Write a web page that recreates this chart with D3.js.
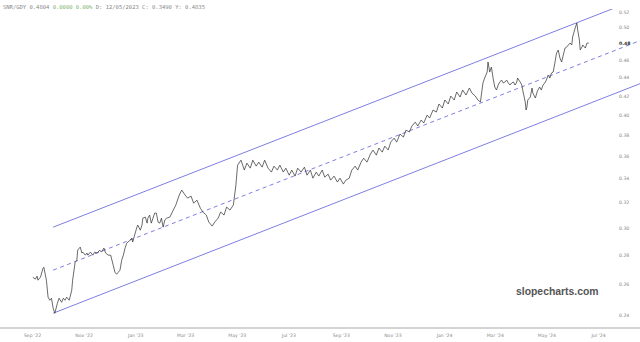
<!DOCTYPE html>
<html><head><meta charset="utf-8">
<script src="https://cdn.jsdelivr.net/npm/d3@7"></script>
<style>html,body{margin:0;padding:0;background:#fff;}svg{display:block;}</style>
</head><body>
<script>
const dates = ["2022-09-02","2022-09-05","2022-09-07","2022-09-08","2022-09-11","2022-09-14","2022-09-15","2022-09-18","2022-09-20","2022-09-22","2022-09-24","2022-09-26","2022-09-28","2022-10-01","2022-10-03","2022-10-06","2022-10-08","2022-10-10","2022-10-12","2022-10-15","2022-10-18","2022-10-19","2022-10-22","2022-10-24","2022-10-25","2022-10-28","2022-10-30","2022-10-31","2022-11-03","2022-11-05","2022-11-06","2022-11-09","2022-11-12","2022-11-14","2022-11-17","2022-11-20","2022-11-22","2022-11-25","2022-11-27","2022-11-30","2022-12-03","2022-12-06","2022-12-08","2022-12-10","2022-12-12","2022-12-14","2022-12-16","2022-12-18","2022-12-20","2022-12-22","2022-12-26","2022-12-28","2022-12-29","2023-01-01","2023-01-03","2023-01-04","2023-01-07","2023-01-09","2023-01-10","2023-01-13","2023-01-15","2023-01-16","2023-01-18","2023-01-20","2023-01-22","2023-01-24","2023-01-26","2023-01-28","2023-01-30","2023-02-01","2023-02-03","2023-02-05","2023-02-07","2023-02-11","2023-02-15","2023-02-18","2023-02-22","2023-02-25","2023-03-01","2023-03-04","2023-03-08","2023-03-11","2023-03-15","2023-03-19","2023-03-22","2023-03-26","2023-03-29","2023-04-02","2023-04-05","2023-04-09","2023-04-12","2023-04-16","2023-04-19","2023-04-23","2023-04-27","2023-04-30","2023-05-02","2023-05-06","2023-05-10","2023-05-13","2023-05-17","2023-05-20","2023-05-24","2023-05-27","2023-05-31","2023-06-03","2023-06-07","2023-06-11","2023-06-14","2023-06-18","2023-06-21","2023-06-25","2023-06-28","2023-07-02","2023-07-05","2023-07-09","2023-07-12","2023-07-16","2023-07-20","2023-07-23","2023-07-27","2023-07-30","2023-08-03","2023-08-06","2023-08-10","2023-08-13","2023-08-17","2023-08-20","2023-08-24","2023-08-28","2023-08-31","2023-09-04","2023-09-07","2023-09-11","2023-09-14","2023-09-18","2023-09-21","2023-09-25","2023-09-28","2023-10-02","2023-10-06","2023-10-09","2023-10-13","2023-10-16","2023-10-20","2023-10-23","2023-10-27","2023-10-30","2023-11-03","2023-11-06","2023-11-10","2023-11-14","2023-11-17","2023-11-21","2023-11-24","2023-11-28","2023-12-01","2023-12-05","2023-12-08","2023-12-12","2023-12-15","2023-12-19","2023-12-23","2023-12-26","2023-12-30","2024-01-02","2024-01-06","2024-01-09","2024-01-13","2024-01-16","2024-01-20","2024-01-23","2024-01-27","2024-01-31","2024-02-03","2024-02-07","2024-02-10","2024-02-13","2024-02-16","2024-02-18","2024-02-21","2024-02-22","2024-02-24","2024-02-26","2024-02-28","2024-03-01","2024-03-03","2024-03-05","2024-03-07","2024-03-09","2024-03-11","2024-03-13","2024-03-15","2024-03-17","2024-03-19","2024-03-21","2024-03-23","2024-03-25","2024-03-27","2024-03-28","2024-03-31","2024-04-02","2024-04-03","2024-04-06","2024-04-07","2024-04-08","2024-04-09","2024-04-12","2024-04-14","2024-04-15","2024-04-18","2024-04-20","2024-04-21","2024-04-23","2024-04-25","2024-04-27","2024-04-29","2024-05-01","2024-05-03","2024-05-05","2024-05-07","2024-05-09","2024-05-11","2024-05-13","2024-05-15","2024-05-17","2024-05-19","2024-05-21","2024-05-23","2024-05-25","2024-05-27","2024-05-29","2024-05-31","2024-06-01","2024-06-04","2024-06-06","2024-06-07","2024-06-09","2024-06-10","2024-06-12","2024-06-13","2024-06-16","2024-06-18","2024-06-20"];
const prices = [0.2643,0.2630,0.2650,0.2623,0.2643,0.2704,0.2711,0.2623,0.2512,0.2492,0.2505,0.2442,0.2411,0.2473,0.2505,0.2479,0.2505,0.2492,0.2512,0.2492,0.2557,0.2623,0.2746,0.2760,0.2832,0.2854,0.2811,0.2818,0.2796,0.2811,0.2796,0.2818,0.2796,0.2818,0.2811,0.2832,0.2818,0.2847,0.2811,0.2796,0.2796,0.2725,0.2677,0.2663,0.2677,0.2691,0.2760,0.2796,0.2847,0.2883,0.2905,0.2920,0.2891,0.2958,0.3003,0.3019,0.2980,0.3019,0.3073,0.3081,0.3034,0.3073,0.3097,0.3034,0.3073,0.3113,0.3113,0.3042,0.3034,0.3073,0.3003,0.3058,0.3073,0.3081,0.3137,0.3177,0.3259,0.3301,0.3259,0.3234,0.3251,0.3193,0.3217,0.3152,0.3121,0.3097,0.3042,0.3011,0.3042,0.3073,0.3121,0.3097,0.3161,0.3137,0.3177,0.3343,0.3518,0.3563,0.3474,0.3536,0.3491,0.3563,0.3509,0.3545,0.3500,0.3563,0.3491,0.3456,0.3509,0.3474,0.3518,0.3456,0.3491,0.3429,0.3474,0.3421,0.3491,0.3456,0.3500,0.3429,0.3474,0.3403,0.3456,0.3421,0.3474,0.3412,0.3438,0.3386,0.3421,0.3369,0.3403,0.3352,0.3386,0.3403,0.3474,0.3509,0.3474,0.3545,0.3581,0.3545,0.3619,0.3656,0.3609,0.3675,0.3637,0.3693,0.3656,0.3731,0.3769,0.3731,0.3808,0.3779,0.3847,0.3828,0.3887,0.3926,0.3887,0.3947,0.3917,0.3997,0.3967,0.4049,0.4028,0.4112,0.4070,0.4154,0.4112,0.4196,0.4154,0.4240,0.4186,0.4261,0.4207,0.4283,0.4228,0.4196,0.4154,0.4133,0.4338,0.4393,0.4461,0.4577,0.4461,0.4519,0.4393,0.4294,0.4261,0.4316,0.4349,0.4371,0.4338,0.4349,0.4371,0.4338,0.4316,0.4338,0.4349,0.4316,0.4349,0.4393,0.4349,0.4316,0.4261,0.4133,0.4049,0.4080,0.4154,0.4186,0.4283,0.4228,0.4175,0.4240,0.4261,0.4294,0.4261,0.4316,0.4338,0.4371,0.4427,0.4393,0.4450,0.4461,0.4565,0.4683,0.4719,0.4624,0.4577,0.4659,0.4743,0.4755,0.4780,0.4804,0.4780,0.4879,0.4992,0.5056,0.4967,0.4841,0.4719,0.4755,0.4780,0.4743,0.4804,0.4804];

const channelDates = ["2022-09-26","2024-08-20"];
const channelUpper = [0.3003, 0.5390];
const channelMid = [0.2691, 0.4835];
const channelLower = [0.2411, 0.4332];

const yTicks = [0.24,0.26,0.28,0.30,0.32,0.34,0.36,0.38,0.40,0.42,0.44,0.46,0.48,0.50,0.52];
const xTicks = ["2022-09-01","2022-11-01","2023-01-01","2023-03-01","2023-05-01","2023-07-01","2023-09-01","2023-11-01","2024-01-01","2024-03-01","2024-05-01","2024-07-01"];
const xTickLabels = ["Sep '22","Nov '22","Jan '23","Mar '23","May '23","Jul '23","Sep '23","Nov '23","Jan '24","Mar '24","May '24","Jul '24"];
const headerParts = [["SNR/GDY 0.4804 ","#888"],["0.0000 0.00% ","#7cb36b"],["D: 12/05/2023 C: 0.3490 Y: 0.4835","#888"]];
const lastPrice = 0.48;

const W = 640, H = 342;
const parse = d3.utcParse("%Y-%m-%d");
const x = d3.scaleUtc().domain([parse("2022-09-01"), parse("2024-07-01")]).range([32, 598]);
const y = d3.scaleLog().domain([0.24, 0.52]).range([315, 12]);

const svg = d3.select("body").append("svg").attr("width", W).attr("height", H);
svg.append("defs").append("clipPath").attr("id","plot").append("rect")
  .attr("x",0).attr("y",9).attr("width",W).attr("height",319);

const g = svg.append("g").attr("clip-path","url(#plot)");
const chanColor = "#6f6fe0";
const cline = d3.line().x(d => x(d[0])).y(d => y(d[1]));
function chan(vals, dash){
  g.append("path").datum(channelDates.map((d,i)=>[parse(d), vals[i]]))
   .attr("d", cline).attr("fill","none").attr("stroke", chanColor)
   .attr("stroke-width", 0.9).attr("stroke-dasharray", dash || null);
}
chan(channelUpper); chan(channelMid, "4,3.5"); chan(channelLower);

const series = dates.map((d,i)=>[parse(d), prices[i]]);
g.append("path").datum(series).attr("d", cline)
  .attr("fill","none").attr("stroke","#3a3a3a").attr("stroke-width",0.75).attr("stroke-linejoin","round");

// x axis
const xAxis = d3.axisBottom(x).tickValues(xTicks.map(parse)).tickSize(0)
  .tickFormat((d,i)=>xTickLabels[i]);
const xa = svg.append("g").attr("transform","translate(0,328)").call(xAxis);
xa.select(".domain").remove();
xa.selectAll("text").attr("dy",0).attr("y",9).attr("fill","#888")
  .style("font-family","DejaVu Sans, sans-serif").style("font-size","4.6px");
svg.append("line").attr("x1",0).attr("x2",W).attr("y1",328).attr("y2",328)
  .attr("stroke","#aaa").attr("stroke-width",1);

// y axis
const yAxis = d3.axisRight(y).tickValues(yTicks).tickSize(0).tickFormat(d3.format(".2f"));
const ya = svg.append("g").attr("transform","translate(619,0)").call(yAxis);
ya.select(".domain").remove();
ya.selectAll("text").attr("x",0).attr("dy","0.32em").attr("fill","#888")
  .style("font-family","DejaVu Sans, sans-serif").style("font-size","4.6px");
ya.selectAll("text").filter(d => Math.abs(d - lastPrice) < 1e-9).attr("fill","#333").style("font-weight","bold");

// header
const ht = svg.append("text").attr("x",3).attr("y",9)
  .style("font-family","DejaVu Sans Mono, monospace").style("font-size","5.5px");
headerParts.forEach(p => ht.append("tspan").attr("fill",p[1]).text(p[0]));

// watermark
svg.append("text").attr("x",516).attr("y",295).text("slopecharts.com")
  .attr("fill","#555").style("font-family","Liberation Sans, Arial, sans-serif")
  .style("font-weight","bold").style("font-size","10.4px");
</script>
</body></html>
